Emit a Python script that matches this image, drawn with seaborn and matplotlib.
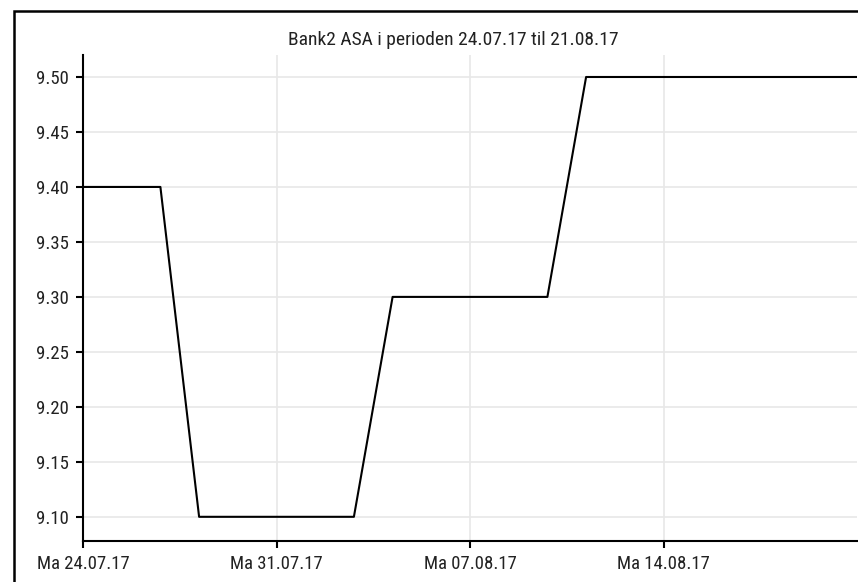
import matplotlib
matplotlib.use("Agg")
import matplotlib.pyplot as plt
import seaborn as sns
import pandas as pd
from matplotlib import font_manager
from matplotlib.patches import Rectangle

# ---- data ----
dates = ["24.07.17", "25.07.17", "26.07.17", "27.07.17", "28.07.17",
         "31.07.17", "01.08.17", "02.08.17", "03.08.17", "04.08.17",
         "07.08.17", "08.08.17", "09.08.17", "10.08.17", "11.08.17",
         "14.08.17", "15.08.17", "16.08.17", "17.08.17", "18.08.17",
         "21.08.17"]
prices = [9.40, 9.40, 9.40, 9.10, 9.10,
          9.10, 9.10, 9.10, 9.30, 9.30,
          9.30, 9.30, 9.30, 9.50, 9.50,
          9.50, 9.50, 9.50, 9.50, 9.50,
          9.50]
tick_dates = ["24.07.17", "31.07.17", "07.08.17", "14.08.17"]
y_ticks = [9.10, 9.15, 9.20, 9.25, 9.30, 9.35, 9.40, 9.45, 9.50]
title = "Bank2 ASA i perioden 24.07.17 til 21.08.17"

df = pd.DataFrame({"idx": range(len(dates)), "date": dates, "price": prices})

sns.set_theme(style="white")
avail = {f.name for f in font_manager.fontManager.ttflist}
fam = None
for cand in ["Liberation Sans Narrow", "DejaVu Sans Condensed", "Roboto Condensed", "Open Sans Condensed"]:
    if cand in avail:
        fam = cand
        break
if fam is None:
    fam = "Liberation Sans"
plt.rcParams["font.family"] = [fam, "DejaVu Sans"]

W, H = 858, 582
fig = plt.figure(figsize=(W / 100, H / 100), dpi=100)
ax = fig.add_axes([83 / W, 1 - 541 / H, (857 - 83) / W, (541 - 55) / H])

sns.lineplot(data=df, x="idx", y="price", ax=ax, color="black", linewidth=1.5)

ax.set_xlim(0, len(dates) - 1)
ax.set_ylim(9.078, 9.52)
ax.set_xticks([dates.index(d) for d in tick_dates])
ax.set_xticklabels(["Ma " + d for d in tick_dates])
ax.set_yticks(y_ticks)
ax.set_yticklabels([f"{v:.2f}" for v in y_ticks])
ax.set_xlabel("")
ax.set_ylabel("")

ax.grid(True, color="#e8e8e8", linewidth=1.2)
ax.set_axisbelow(True)
for s in ["top", "right"]:
    ax.spines[s].set_visible(False)
for s in ["left", "bottom"]:
    ax.spines[s].set_color("black")
    ax.spines[s].set_linewidth(1.5)
ax.tick_params(axis="both", direction="out", length=5, width=1.5, color="black",
               labelsize=13.5, labelcolor="#222222", pad=5,
               bottom=True, left=True)

fig.text(453 / W, 1 - 40 / H, title, ha="center", va="center", fontsize=14, color="#222222")

# outer frame (cropped on right and bottom)
fig.patches.append(Rectangle((13.5 / W, -0.1), 1.2, 1 - 10.5 / H + 0.1,
                             transform=fig.transFigure, fill=False,
                             edgecolor="black", linewidth=1.8))

fig.savefig("out.png", dpi=100)
